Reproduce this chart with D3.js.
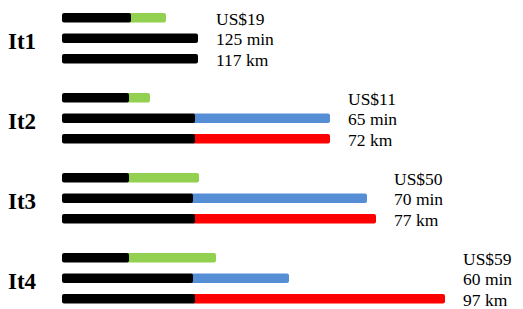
<!DOCTYPE html>
<html lang="en">
<head>
    <meta charset="UTF-8">
    <script src="https://d3js.org/d3.v7.min.js"></script>
    <style>
        body { margin: 0; background: #fff; }
        text { font-family: "Liberation Serif", "Times New Roman", serif; fill: #000; }
    </style>
</head>
<body>
    <div id="chart"></div>
    <script>
        const groups = ['It1', 'It2', 'It3', 'It4'];
        const rows = ['cost', 'time', 'dist'];

        // length of the black (reference) part and total bar length, same units for all rows
        const costBase = [69, 67, 67, 67];
        const costTotal = [104, 88, 137, 154];
        const timeBase = [136, 133, 131, 131];
        const timeTotal = [136, 268, 305, 227];
        const distBase = [136, 133, 133, 133];
        const distTotal = [136, 268, 314, 383];

        const costLabels = ['US$19', 'US$11', 'US$50', 'US$59'];
        const timeLabels = ['125 min', '65 min', '70 min', '60 min'];
        const distLabels = ['117 km', '72 km', '77 km', '97 km'];

        const colors = {cost: '#92d050', time: '#558ed5', dist: '#ff0000'};

        var width = 523, height = 309;
        var barH = 9.5;

        var svg = d3.select('#chart').append('svg')
            .attr('width', width)
            .attr('height', height);

        var x = d3.scaleLinear().domain([0, 400]).range([62, 462]);
        var yGroup = d3.scalePoint().domain(groups).range([13, 253]);
        var yRow = d3.scalePoint().domain(rows).range([0, 41]);

        var table = groups.map(function(g, i) {
            return {
                group: g,
                bars: [
                    {row: 'cost', base: costBase[i], total: costTotal[i], label: costLabels[i]},
                    {row: 'time', base: timeBase[i], total: timeTotal[i], label: timeLabels[i]},
                    {row: 'dist', base: distBase[i], total: distTotal[i], label: distLabels[i]}
                ]
            };
        });

        var gg = svg.selectAll('.grp')
            .data(table)
            .enter().append('g')
            .attr('class', 'grp')
            .attr('transform', function(d) { return 'translate(0,' + yGroup(d.group) + ')'; });

        gg.append('text')
            .attr('x', 8)
            .attr('y', 36)
            .attr('font-size', '23px')
            .attr('font-weight', 'bold')
            .text(function(d) { return d.group; });

        var bar = gg.selectAll('.bar')
            .data(function(d) { return d.bars; })
            .enter().append('g')
            .attr('class', 'bar')
            .attr('transform', function(d) { return 'translate(0,' + yRow(d.row) + ')'; });

        // coloured part first, black reference part drawn on top
        bar.filter(function(d) { return d.total > d.base; })
            .append('rect')
            .attr('x', function(d) { return x(d.base) - 3; })
            .attr('width', function(d) { return x(d.total) - x(d.base) + 3; })
            .attr('height', barH)
            .attr('rx', 2)
            .attr('fill', function(d) { return colors[d.row]; });

        bar.append('rect')
            .attr('x', x(0))
            .attr('width', function(d) { return x(d.base) - x(0); })
            .attr('height', barH)
            .attr('rx', 2)
            .attr('fill', '#000');

        gg.each(function(d) {
            var maxEnd = d3.max(d.bars, function(b) { return b.total; });
            d3.select(this).selectAll('.val')
                .data(d.bars)
                .enter().append('text')
                .attr('class', 'val')
                .attr('x', x(maxEnd) + 18)
                .attr('y', function(b) { return yRow(b.row) + barH / 2 + 7; })
                .attr('font-size', '17.5px')
                .text(function(b) { return b.label; });
        });
    </script>
</body>
</html>
